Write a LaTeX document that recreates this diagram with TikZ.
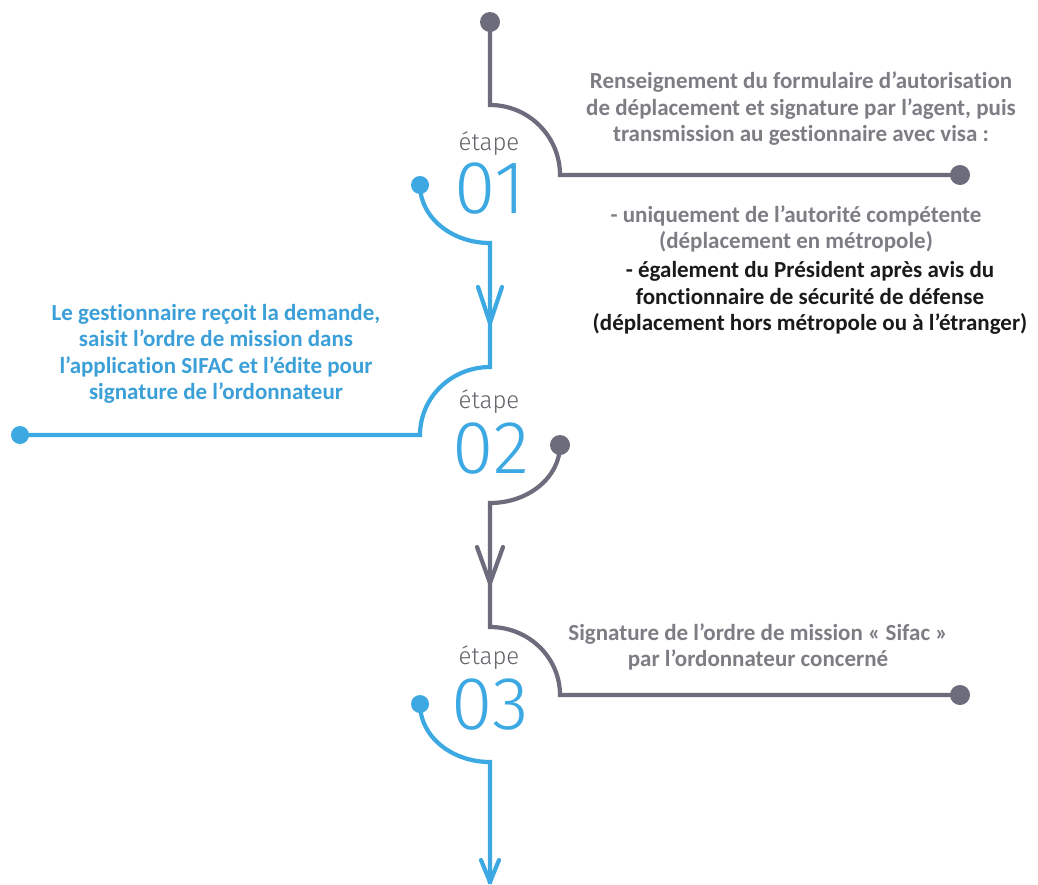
\documentclass[tikz,border=0pt]{standalone}
\usepackage{fontspec}
\usetikzlibrary{calc}
\setmainfont{Carlito}[Ligatures={NoCommon,TeX}]
\newfontfamily\thinfont{Fira Sans Light}
\definecolor{lblue}{HTML}{3DA9E2}
\definecolor{tblue}{HTML}{3B9FD8}
\definecolor{lgray}{HTML}{6C6C7C}
\definecolor{tgray}{HTML}{7D7D84}
\definecolor{sgray}{HTML}{626268}
\definecolor{tblack}{HTML}{1A1A1A}
\begin{document}
\begin{tikzpicture}[x=1pt,y=-1pt,
 bline/.style={draw=lblue,line width=4.2pt},
 gline/.style={draw=lgray,line width=4.2pt},
 bdot/.style={circle,fill=lblue,inner sep=0pt,minimum size=18pt},
 gdot/.style={circle,fill=lgray,inner sep=0pt,minimum size=20pt},
 steplabel/.style={font=\thinfont\fontsize{24}{24}\selectfont,text=sgray,anchor=base,inner sep=0pt},
 stepnum/.style={font=\thinfont\fontsize{75}{75}\selectfont,text=lblue,anchor=base,inner sep=0pt},
 desc/.style={font=\bfseries\fontsize{23}{26.5}\selectfont,align=center,inner sep=0pt},
 vhead/.style={line cap=round,line join=round}
]
\useasboundingbox (0,0) rectangle (1038,884);
\fill[white] (0,0) rectangle (1038,884);

% step 1 (gray, top)
\node[gdot] (g0) at (490,22) {};
\coordinate (g0a) at (490,105);
\node[gdot] (g1) at (960,175) {};
\draw[gline] (g0.center) -- (g0a) arc[start angle=-90,end angle=0,x radius=70,y radius=70] -- (g1.center);

% blue from step 1 to step 2
\node[bdot] (b1) at (420,185) {};
\coordinate (b1a) at (490,367);
\node[bdot] (b2) at (20,435) {};
\coordinate (m1) at (490,323);
\draw[bline] (b1.center) arc[start angle=180,end angle=90,x radius=70,y radius=58] -- (b1a)
  arc[start angle=-90,end angle=-180,x radius=70,y radius=68] -- (b2.center);
\draw[bline,vhead] ($(m1)+(-12,-36)$) -- (m1) -- ++(12,-36);

% gray from step 2 to step 3
\node[gdot] (g2) at (560,445) {};
\coordinate (g2a) at (490,627);
\node[gdot] (g3) at (960,695) {};
\coordinate (m2) at (490,583);
\draw[gline] (g2.center) arc[start angle=0,end angle=90,x radius=70,y radius=58] -- (g2a)
  arc[start angle=-90,end angle=0,x radius=70,y radius=68] -- (g3.center);
\draw[gline,vhead] ($(m2)+(-13,-36)$) -- (m2) -- ++(13,-36);

% blue after step 3
\node[bdot] (b3) at (420,704) {};
\coordinate (b3a) at (490,884);
\coordinate (m3) at (490,882);
\draw[bline] (b3.center) arc[start angle=180,end angle=90,x radius=70,y radius=58] -- (b3a);
\draw[bline,vhead] ($(m3)+(-9,-22)$) -- (m3) -- ++(9,-22);

% step labels
\node[steplabel] (e1) at (489,150) {étape};
\node[stepnum] (n1) at (490,213) {01};
\node[steplabel] (e2) at (489,408) {étape};
\node[stepnum] (n2) at (491,473) {02};
\node[steplabel] (e3) at (489,664) {étape};
\node[stepnum] (n3) at (490,729) {03};

% texts
\node[desc,text=tgray] (t1) at (801,109) {Renseignement du formulaire d’autorisation\\de déplacement et signature par l’agent, puis\\transmission au gestionnaire avec visa~:};
\node[desc,text=tgray] (t2) at (796,229) {- uniquement de l’autorité compétente\\(déplacement en métropole)};
\node[desc,text=tblack] (t3) at (810,298) {- également du Président après avis du\\fonctionnaire de sécurité de défense\\(déplacement hors métropole ou à l’étranger)};
\node[desc,text=tblue] (t4) at (216,354) {Le gestionnaire reçoit la demande,\\saisit l’ordre de mission dans\\l’application SIFAC et l’édite pour\\signature de l’ordonnateur};
\node[desc,text=tgray] (t5) at (758,647) {Signature de l’ordre de mission «~Sifac~»\\par l’ordonnateur concerné};
\end{tikzpicture}
\end{document}
